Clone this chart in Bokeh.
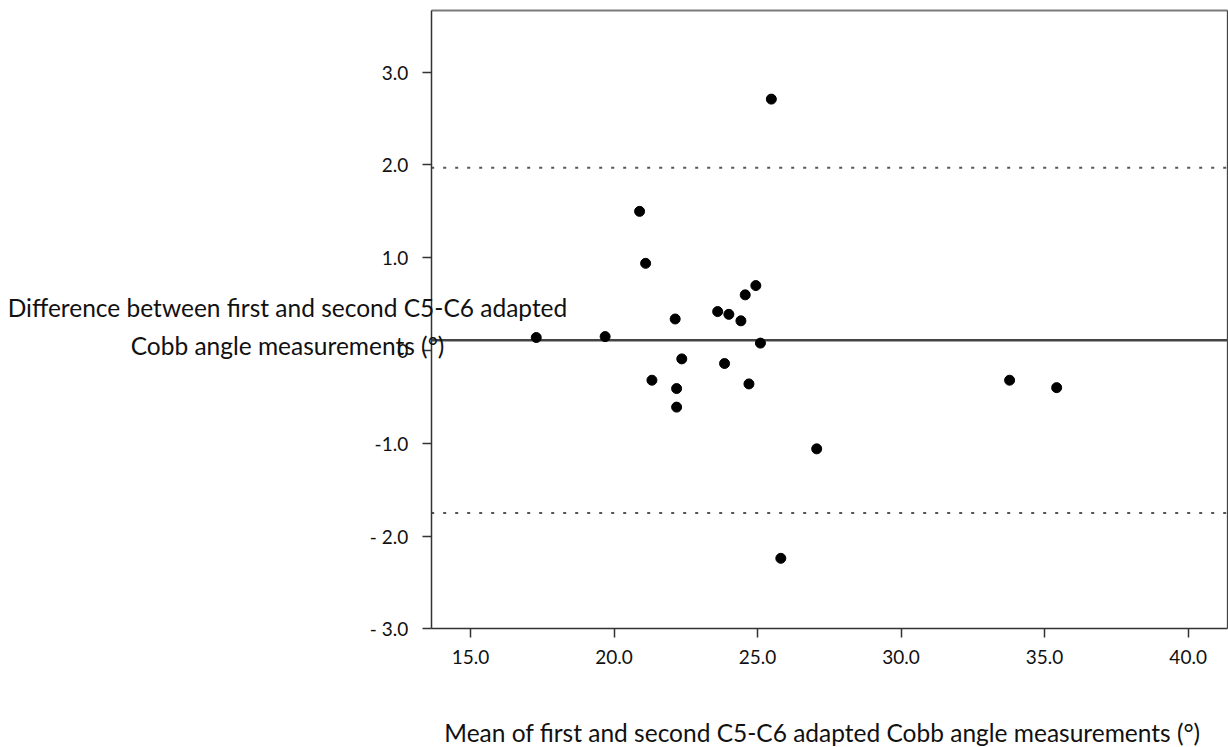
from bokeh.plotting import figure
from bokeh.models import Label, FixedTicker, Range1d, LinearAxis
from bokeh.embed import file_html
from bokeh.resources import INLINE

# ---- data ----
means = [17.29, 19.69, 20.89, 21.10, 21.32, 22.13, 22.18, 22.18, 22.36, 23.61, 23.85,
         24.00, 24.42, 24.57, 24.70, 24.94, 25.10, 25.48, 25.81, 27.06, 33.78, 35.42]
diffs = [0.14, 0.15, 1.50, 0.94, -0.32, 0.34, -0.41, -0.61, -0.09, 0.42, -0.14,
         0.39, 0.32, 0.60, -0.36, 0.70, 0.08, 2.71, -2.24, -1.06, -0.32, -0.40]
bias = 0.11
loa_upper = 1.97
loa_lower = -1.75

x_ticks = [15, 20, 25, 30, 35, 40]
x_tick_labels = ["15.0", "20.0", "25.0", "30.0", "35.0", "40.0"]
y_ticks = [3, 2, 1, 0, -1, -2, -3]
y_tick_labels = ["3.0", "2.0", "1.0", "0", "-1.0", "- 2.0", "- 3.0"]

y_title = ["Difference between first and second C5-C6 adapted",
           "Cobb angle measurements (°)"]
x_title = "Mean of first and second C5-C6 adapted Cobb angle measurements (°)"

# plot box (data extent of the drawn axes)
X_LO, X_HI = 13.63, 41.36
Y_LO, Y_HI = -3.0, 3.665

FONT = "Lato"
W, H = 1228, 747

p = figure(width=W, height=H, output_backend="svg", toolbar_location=None,
           x_axis_location=None, y_axis_location=None,
           x_range=Range1d(-1.374, 41.406), y_range=Range1d(-4.279, 3.773),
           min_border=0)
p.min_border_left = p.min_border_right = p.min_border_top = p.min_border_bottom = 0
for g in p.grid:
    g.visible = False
p.outline_line_color = None
p.background_fill_color = "white"
p.border_fill_color = "white"


def style(ax, color="#333333", width=1.5):
    ax.axis_line_color = color
    ax.axis_line_width = width
    ax.major_tick_line_color = color
    ax.major_tick_line_width = 1.5
    ax.major_tick_in = 0
    ax.major_tick_out = 9
    ax.minor_tick_line_color = None
    ax.major_label_text_font = FONT
    ax.major_label_text_font_size = "19px"
    ax.major_label_text_color = "#111111"


yax = LinearAxis(fixed_location=X_LO, bounds=(Y_LO, Y_HI), ticker=FixedTicker(ticks=y_ticks))
style(yax)
yax.major_label_overrides = {t: l for t, l in zip(y_ticks, y_tick_labels)}
yax.major_label_standoff = 14
p.add_layout(yax, "left")

xax = LinearAxis(fixed_location=Y_LO, bounds=(X_LO, X_HI), ticker=FixedTicker(ticks=x_ticks))
style(xax)
xax.major_label_overrides = {t: l for t, l in zip(x_ticks, x_tick_labels)}
xax.major_label_standoff = 12
p.add_layout(xax, "below")

# top and right edges of the box
top = LinearAxis(fixed_location=Y_HI, bounds=(X_LO, X_HI), ticker=FixedTicker(ticks=[]))
style(top, color="#7a7a7a", width=2)
p.add_layout(top, "above")
right = LinearAxis(fixed_location=X_HI, bounds=(Y_LO, Y_HI), ticker=FixedTicker(ticks=[]))
style(right, color="#444444", width=1.3)
p.add_layout(right, "right")

# bias and limits of agreement
p.line([X_LO, X_HI], [bias, bias], line_color="#444444", line_width=2.5)
p.line([X_LO, X_HI], [loa_upper, loa_upper], line_color="#555555", line_width=2,
       line_dash="3 9")
p.line([X_LO, X_HI], [loa_lower, loa_lower], line_color="#555555", line_width=2,
       line_dash="3 9")

p.scatter(means, diffs, size=10, color="black")

TITLE_SIZE = "24.5px"
p.add_layout(Label(x=8.624, y=0.467, text=y_title[0], text_font=FONT,
                   text_font_size=TITLE_SIZE, text_align="center",
                   text_baseline="middle", text_color="#111111"))
p.add_layout(Label(x=8.624, y=0.054, text=y_title[1], text_font=FONT,
                   text_font_size=TITLE_SIZE, text_align="center",
                   text_baseline="middle", text_color="#111111"))
p.add_layout(Label(x=27.26, y=-4.117, text=x_title, text_font=FONT,
                   text_font_size=TITLE_SIZE, text_align="center",
                   text_baseline="middle", text_color="#111111"))

open("out.html", "w").write(file_html(p, INLINE))
